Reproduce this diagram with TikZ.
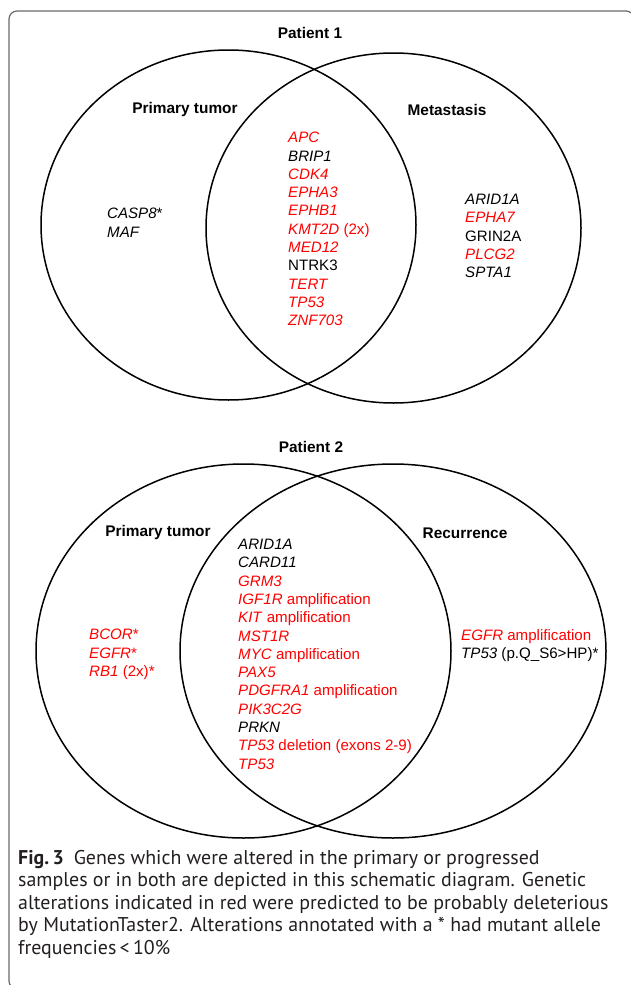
\documentclass[tikz,border=0pt]{standalone}
\usepackage{fontspec}
\setmainfont{Liberation Sans}
\newfontfamily\captionfont{PT Sans}
\usetikzlibrary{shapes.geometric}

\definecolor{genered}{RGB}{255,0,0}
\definecolor{framegray}{RGB}{105,105,105}
\definecolor{captiontext}{RGB}{35,31,32}

% red = predicted deleterious
\newcommand{\del}[1]{\textcolor{genered}{#1}}

\tikzset{
    venn/.style={draw, ellipse, line width=1.5pt, inner sep=0pt},
    setlabel/.style={font=\bfseries\fontsize{15.4}{18}\selectfont},
    genelist/.style={align=left, anchor=north west, inner sep=0pt,
        font=\fontsize{15.1}{18.3}\selectfont},
}

\begin{document}
\begin{tikzpicture}[x=1pt, y=-1pt]
    \useasboundingbox (0,0) rectangle (630,985);
    \draw[framegray, line width=1.2pt, rounded corners=8pt] (9,11) rectangle (634,989);

    % Patient 1
    \node[setlabel, name=p1title] at (310,33) {Patient 1};

    \node[
        venn,
        minimum width=375pt,
        minimum height=350pt,
        name=p1prim
    ] at (228.5,225) {};
    \node[
        venn,
        minimum width=375pt,
        minimum height=350pt,
        name=p1meta
    ] at (393.5,228) {};

    \node[setlabel, name=p1primlabel] at (185,110) {Primary tumor};
    \node[setlabel, name=p1metalabel] at (447,110) {Metastasis};

    \node[genelist, name=p1primonly] at (107,208) {%
        \textit{CASP8}*\\
        \textit{MAF}};

    \node[genelist, name=p1both] at (288,132) {%
        \del{\textit{APC}}\\
        \textit{BRIP1}\\
        \del{\textit{CDK4}}\\
        \del{\textit{EPHA3}}\\
        \del{\textit{EPHB1}}\\
        \del{\textit{KMT2D} (2x)}\\
        \del{\textit{MED12}}\\
        NTRK3\\
        \del{\textit{TERT}}\\
        \del{\textit{TP53}}\\
        \del{\textit{ZNF703}}};

    \node[genelist, name=p1metaonly] at (465,194) {%
        \textit{ARID1A}\\
        \del{\textit{EPHA7}}\\
        GRIN2A\\
        \del{\textit{PLCG2}}\\
        \textit{SPTA1}};

    % Patient 2
    \node[setlabel, name=p2title] at (311,447) {Patient 2};

    \node[
        venn,
        minimum width=415pt,
        minimum height=374pt,
        name=p2prim
    ] at (243.5,651) {};
    \node[
        venn,
        minimum width=426pt,
        minimum height=374pt,
        name=p2recur
    ] at (393,651) {};

    \node[setlabel, name=p2primlabel] at (158,533) {Primary tumor};
    \node[setlabel, name=p2recurlabel] at (465,533) {Recurrence};

    \node[genelist, name=p2primonly] at (89,629) {%
        \del{\textit{BCOR}*}\\
        \del{\textit{EGFR}*}\\
        \del{\textit{RB1} (2x)*}};

    \node[genelist, name=p2both] at (238,539) {%
        \textit{ARID1A}\\
        \textit{CARD11}\\
        \del{\textit{GRM3}}\\
        \del{\textit{IGF1R} amplification}\\
        \del{\textit{KIT} amplification}\\
        \del{\textit{MST1R}}\\
        \del{\textit{MYC} amplification}\\
        \del{\textit{PAX5}}\\
        \del{\textit{PDGFRA1} amplification}\\
        \del{\textit{PIK3C2G}}\\
        \textit{PRKN}\\
        \del{\textit{TP53} deletion (exons 2-9)}\\
        \del{\textit{TP53}}};

    \node[genelist, name=p2recuronly] at (461,629) {%
        \del{\textit{EGFR} amplification}\\
        \textit{TP53} (p.Q\_S6>HP)*};

    % caption
    \node[
        anchor=north west,
        align=left,
        inner sep=0pt,
        text=captiontext,
        font=\captionfont\fontsize{19.9}{22.5}\selectfont,
        name=caption
    ] at (18,850) {%
        \textbf{Fig.\,3}\enspace Genes which were altered in the primary or progressed\\
        samples or in both are depicted in this schematic diagram. Genetic\\
        alterations indicated in red were predicted to be probably deleterious\\
        by MutationTaster2. Alterations annotated with a * had mutant allele\\
        frequencies\,<\,10\%};
\end{tikzpicture}
\end{document}
